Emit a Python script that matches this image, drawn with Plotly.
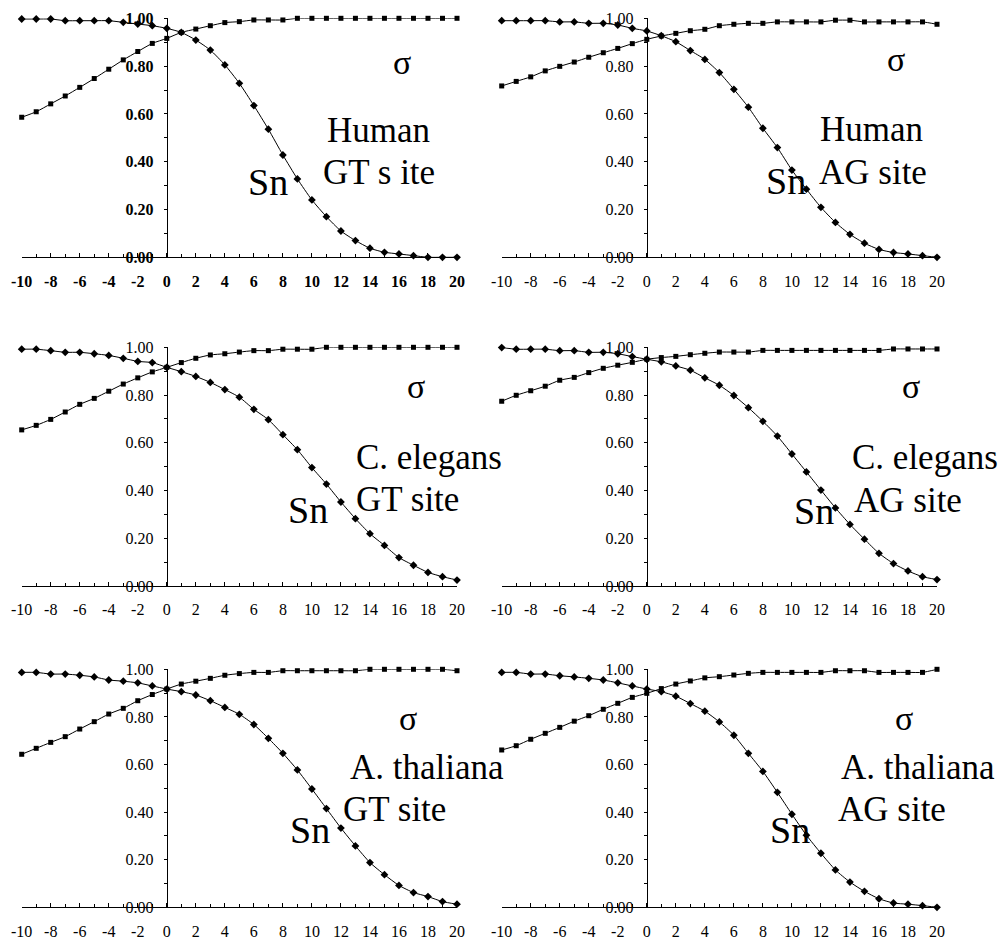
import plotly.graph_objects as go

# ---------------- data ----------------
positions = list(range(-10, 21))
x_tick_vals = list(range(-10, 21, 2))
y_tick_vals = [0.0, 0.2, 0.4, 0.6, 0.8, 1.0]
y_tick_text = ["0.00", "0.20", "0.40", "0.60", "0.80", "1.00"]

sn_human_gt = [0.997, 0.997, 0.997, 0.990, 0.990, 0.990, 0.990, 0.983, 0.976, 0.969,
               0.958, 0.941, 0.909, 0.867, 0.805, 0.728, 0.635, 0.536, 0.428, 0.328,
               0.240, 0.170, 0.110, 0.070, 0.038, 0.021, 0.014, 0.007, 0.000, 0.000, 0.000]
sigma_human_gt = [0.586, 0.609, 0.642, 0.675, 0.711, 0.748, 0.787, 0.826, 0.861, 0.895,
                  0.916, 0.941, 0.955, 0.969, 0.982, 0.986, 0.993, 0.993, 0.993, 1.000,
                  1.000, 1.000, 1.000, 1.000, 1.000, 1.000, 1.000, 1.000, 1.000, 1.000, 1.000]

sn_human_ag = [0.990, 0.990, 0.990, 0.990, 0.985, 0.985, 0.979, 0.979, 0.972, 0.958,
               0.947, 0.927, 0.902, 0.865, 0.828, 0.773, 0.703, 0.628, 0.540, 0.459,
               0.365, 0.285, 0.209, 0.146, 0.096, 0.059, 0.033, 0.020, 0.014, 0.007, 0.000]
sigma_human_ag = [0.717, 0.736, 0.755, 0.780, 0.799, 0.817, 0.837, 0.856, 0.874, 0.894,
                  0.912, 0.926, 0.937, 0.948, 0.954, 0.969, 0.975, 0.979, 0.979, 0.985,
                  0.985, 0.985, 0.985, 0.992, 0.992, 0.985, 0.985, 0.985, 0.985, 0.985, 0.975]

sn_celegans_gt = [0.992, 0.992, 0.986, 0.979, 0.979, 0.973, 0.966, 0.954, 0.941, 0.936,
                  0.916, 0.898, 0.878, 0.853, 0.823, 0.791, 0.740, 0.697, 0.634, 0.571,
                  0.496, 0.427, 0.352, 0.282, 0.219, 0.170, 0.119, 0.087, 0.057, 0.039, 0.025]
sigma_celegans_gt = [0.654, 0.673, 0.698, 0.729, 0.761, 0.786, 0.816, 0.846, 0.872, 0.897,
                     0.916, 0.936, 0.954, 0.968, 0.973, 0.980, 0.986, 0.986, 0.992, 0.992,
                     0.992, 1.000, 1.000, 1.000, 1.000, 1.000, 1.000, 1.000, 1.000, 1.000, 1.000]

sn_celegans_ag = [0.999, 0.992, 0.992, 0.992, 0.986, 0.986, 0.979, 0.979, 0.973, 0.961,
                  0.950, 0.939, 0.922, 0.904, 0.872, 0.841, 0.798, 0.747, 0.690, 0.628,
                  0.553, 0.478, 0.402, 0.327, 0.258, 0.196, 0.137, 0.094, 0.063, 0.039, 0.027]
sigma_celegans_ag = [0.774, 0.799, 0.818, 0.837, 0.862, 0.874, 0.894, 0.912, 0.925, 0.937,
                     0.950, 0.957, 0.962, 0.969, 0.975, 0.980, 0.980, 0.980, 0.987, 0.987,
                     0.987, 0.987, 0.987, 0.987, 0.987, 0.987, 0.987, 0.993, 0.993, 0.993, 0.993]

sn_athaliana_gt = [0.987, 0.987, 0.980, 0.980, 0.975, 0.968, 0.955, 0.950, 0.943, 0.930,
                   0.917, 0.906, 0.892, 0.868, 0.840, 0.811, 0.768, 0.710, 0.647, 0.577,
                   0.497, 0.415, 0.333, 0.258, 0.188, 0.137, 0.092, 0.062, 0.045, 0.024, 0.013]
sigma_athaliana_gt = [0.643, 0.668, 0.693, 0.717, 0.749, 0.780, 0.812, 0.836, 0.868, 0.894,
                      0.917, 0.938, 0.950, 0.962, 0.975, 0.982, 0.987, 0.987, 0.994, 0.994,
                      0.994, 0.994, 0.994, 0.994, 1.000, 1.000, 1.000, 1.000, 1.000, 1.000, 0.994]

sn_athaliana_ag = [0.987, 0.987, 0.980, 0.980, 0.973, 0.968, 0.962, 0.955, 0.943, 0.930,
                   0.917, 0.906, 0.887, 0.856, 0.824, 0.779, 0.723, 0.647, 0.571, 0.483,
                   0.391, 0.303, 0.227, 0.157, 0.106, 0.067, 0.036, 0.018, 0.013, 0.007, 0.000]
sigma_athaliana_ag = [0.661, 0.679, 0.706, 0.731, 0.756, 0.782, 0.805, 0.832, 0.857, 0.882,
                      0.899, 0.919, 0.938, 0.951, 0.964, 0.969, 0.976, 0.983, 0.987, 0.987,
                      0.987, 0.987, 0.987, 0.994, 0.994, 0.994, 0.987, 0.987, 0.987, 0.987, 1.000]

organism_labels = ["Human", "Human", "C. elegans", "C. elegans", "A. thaliana", "A. thaliana"]
site_labels = ["GT s ite", "AG site", "GT site", "AG site", "GT site", "AG site"]

# ---------------- layout helpers ----------------
W, H = 1003, 938
col_px = [(21.7, 457.0), (501.7, 937.0)]
row_px = [(18.3, 257.3), (347.3, 586.0), (669.3, 907.3)]

panels = [
    (sn_human_gt, sigma_human_gt),
    (sn_human_ag, sigma_human_ag),
    (sn_celegans_gt, sigma_celegans_gt),
    (sn_celegans_ag, sigma_celegans_ag),
    (sn_athaliana_gt, sigma_athaliana_gt),
    (sn_athaliana_ag, sigma_athaliana_ag),
]

# label placements in data coordinates of each panel
label_pos = [
    dict(sig=(16.2, 0.817), org=(14.6, 0.530), site=(14.6, 0.355), sn=(7.0, 0.315)),
    dict(sig=(17.2, 0.826), org=(15.5, 0.535), site=(15.6, 0.355), sn=(9.6, 0.318)),
    dict(sig=(17.2, 0.834), org=(18.05, 0.538), site=(16.6, 0.364), sn=(9.7, 0.318)),
    dict(sig=(18.2, 0.835), org=(19.2, 0.540), site=(18.0, 0.360), sn=(11.5, 0.314)),
    dict(sig=(16.6, 0.794), org=(17.9, 0.589), site=(15.7, 0.409), sn=(9.9, 0.325)),
    dict(sig=(17.7, 0.794), org=(18.7, 0.589), site=(16.9, 0.409), sn=(9.9, 0.325)),
]

FONT = "Liberation Serif"

fig = go.Figure()
annotations = []
layout_axes = {}

for i, (sn, sig) in enumerate(panels):
    r, c = divmod(i, 2)
    n = i + 1
    xa = "x" if n == 1 else f"x{n}"
    ya = "y" if n == 1 else f"y{n}"
    bold = (i == 0)
    tick_font = dict(family=FONT, size=16, color="black",
                     weight="bold" if bold else "normal")

    fig.add_trace(go.Scatter(
        x=positions, y=sig, xaxis=xa, yaxis=ya, mode="lines+markers",
        line=dict(color="black", width=1, shape="spline", smoothing=0.6),
        marker=dict(symbol="square", size=5, color="black"),
        cliponaxis=False, showlegend=False, hoverinfo="skip"))
    fig.add_trace(go.Scatter(
        x=positions, y=sn, xaxis=xa, yaxis=ya, mode="lines+markers",
        line=dict(color="black", width=1, shape="spline", smoothing=0.6),
        marker=dict(symbol="diamond", size=6, color="black"),
        cliponaxis=False, showlegend=False, hoverinfo="skip"))

    x0, x1 = col_px[c]
    yt, yb = row_px[r]
    xdom = [x0 / W, x1 / W]
    ydom = [1 - yb / H, 1 - yt / H]
    yaxis_pos = (x0 + (x1 - x0) * 10 / 30) / W

    layout_axes["xaxis" if n == 1 else f"xaxis{n}"] = dict(
        domain=xdom, anchor=ya, range=[-10, 20], showgrid=False, zeroline=False,
        showline=True, linecolor="black", linewidth=1, automargin=False,
        tickmode="array", tickvals=x_tick_vals, ticktext=[str(v) for v in x_tick_vals],
        ticks="inside", ticklen=4, tickcolor="black", tickwidth=1,
        minor=dict(dtick=1, tick0=0, ticks="inside", ticklen=3, tickcolor="black", tickwidth=1),
        ticklabelstandoff=9, tickfont=tick_font, fixedrange=True)
    layout_axes["yaxis" if n == 1 else f"yaxis{n}"] = dict(
        domain=ydom, anchor="free", position=yaxis_pos, range=[0, 1],
        showgrid=False, zeroline=False, showline=True, linecolor="black", linewidth=1,
        automargin=False,
        tickmode="array", tickvals=y_tick_vals, ticktext=y_tick_text,
        ticks="outside", ticklen=3, tickcolor="black", tickwidth=1,
        minor=dict(dtick=0.1, tick0=0, ticks="outside", ticklen=3, tickcolor="black", tickwidth=1),
        ticklabelstandoff=7, tickfont=tick_font, fixedrange=True)

    lp = label_pos[i]
    big = dict(family=FONT, color="black")
    annotations.append(dict(x=lp["sig"][0], y=lp["sig"][1], xref=xa, yref=ya, text="σ",
                            showarrow=False, font=dict(size=34, **big)))
    annotations.append(dict(x=lp["org"][0], y=lp["org"][1], xref=xa, yref=ya, text=organism_labels[i],
                            showarrow=False, font=dict(size=35, **big)))
    annotations.append(dict(x=lp["site"][0], y=lp["site"][1], xref=xa, yref=ya, text=site_labels[i],
                            showarrow=False, font=dict(size=35, **big)))
    annotations.append(dict(x=lp["sn"][0], y=lp["sn"][1], xref=xa, yref=ya, text="Sn",
                            showarrow=False, font=dict(size=38, **big)))

fig.update_layout(
    width=W, height=H, margin=dict(l=0, r=0, t=0, b=0, autoexpand=False),
    paper_bgcolor="white", plot_bgcolor="white",
    showlegend=False, annotations=annotations, **layout_axes)

fig.write_html("out.html", config={"displayModeBar": False, "staticPlot": True},
               post_script="document.body.style.margin='0px';document.body.style.overflow='hidden';")
